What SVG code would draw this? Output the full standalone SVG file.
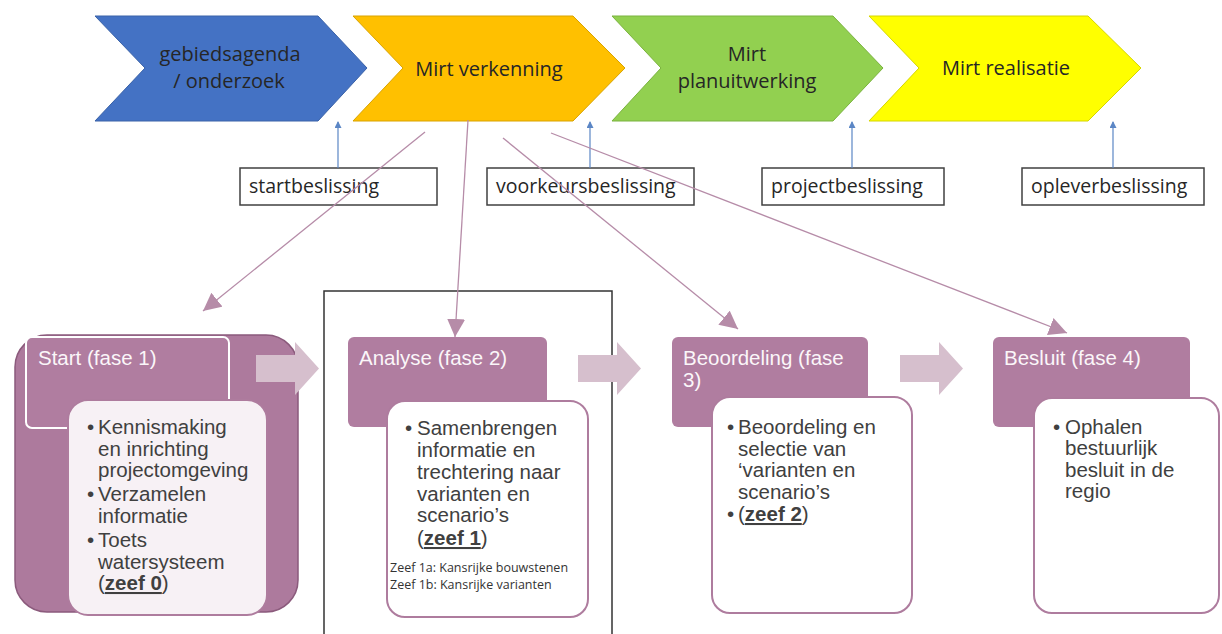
<svg xmlns="http://www.w3.org/2000/svg" width="1222" height="634" viewBox="0 0 1222 634">
<style>
.top{font-family:"Open Sans","Liberation Sans",sans-serif;font-size:20px;fill:#262626;text-anchor:middle}
.dec{font-family:"Open Sans","Liberation Sans",sans-serif;font-size:19.5px;fill:#262626}
.decbox{fill:#fff;stroke:#404040;stroke-width:1.5}
.hdr{fill:#B07DA0}
.hdrt{font-family:"Liberation Sans",Arial,sans-serif;font-size:20.5px;fill:#FBF6F9}
.inner{fill:#fff;stroke:#AE7C9E;stroke-width:2}
.bt{font-family:"Liberation Sans",Arial,sans-serif;font-size:20.5px;fill:#404040}
.small{font-family:"Open Sans","Liberation Sans",sans-serif;font-size:12.5px;fill:#333}
.blk{fill:#D6BFCD}
.pink{stroke:#B68CA8;stroke-width:1.3;fill:none;marker-end:url(#pa)}
.blue{stroke:#5B86C5;stroke-width:1.2;fill:none;marker-end:url(#ba)}
.z{font-weight:bold;text-decoration:underline}
</style>
<defs>
<marker id="pa" markerUnits="userSpaceOnUse" markerWidth="20" markerHeight="20" refX="18" refY="9" orient="auto">
<path d="M0,0 L18,9 L0,18 Z" fill="#B68CA8"/>
</marker>
<marker id="ba" markerUnits="userSpaceOnUse" markerWidth="8" markerHeight="8" refX="6" refY="3.5" orient="auto">
<path d="M0,0 L7,3.5 L0,7 Z" fill="#5B86C5"/>
</marker>
</defs>

<g id="chevron-gebiedsagenda">
<polygon points="95,16 318,16 367,68 318,121 95,121 145,68" fill="#4472C4" stroke="#3A62A8" stroke-width="1"/>
<text class="top" x="230" y="61">gebiedsagenda</text>
<text class="top" x="229" y="88">/ onderzoek</text>
</g>
<g id="chevron-verkenning">
<polygon points="353,16 573,16 625,68 573,121 353,121 403,68" fill="#FFC000" stroke="#D9A300" stroke-width="1"/>
<text class="top" x="489" y="76">Mirt verkenning</text>
</g>
<g id="chevron-planuitwerking">
<polygon points="612,16 833,16 883,68 833,121 612,121 661,68" fill="#92D050" stroke="#7AB33E" stroke-width="1"/>
<text class="top" x="747" y="61">Mirt</text>
<text class="top" x="747" y="88">planuitwerking</text>
</g>
<g id="chevron-realisatie">
<polygon points="869,16 1088,16 1141,68 1088,121 869,121 919,68" fill="#FFFF00" stroke="#D6D600" stroke-width="1"/>
<text class="top" x="1006" y="75">Mirt realisatie</text>
</g>

<g id="startbeslissing">
<rect class="decbox" x="240" y="168" width="197" height="37"/>
<text class="dec" x="249" y="193">startbeslissing</text>
</g>
<g id="voorkeursbeslissing">
<rect class="decbox" x="487" y="168" width="207" height="37"/>
<text class="dec" x="496" y="193">voorkeursbeslissing</text>
</g>
<g id="projectbeslissing">
<rect class="decbox" x="762" y="168" width="182" height="37"/>
<text class="dec" x="771" y="193">projectbeslissing</text>
</g>
<g id="opleverbeslissing">
<rect class="decbox" x="1022" y="168" width="182" height="37"/>
<text class="dec" x="1031" y="193">opleverbeslissing</text>
</g>

<g id="analyse-frame">
<rect x="324" y="291" width="288" height="360" fill="#fff" stroke="#333" stroke-width="1.5"/>
</g>

<g id="fase1">
<rect x="15" y="335" width="283" height="277" rx="32" fill="#AD7A9D" stroke="#8B5A7C" stroke-width="1.5"/>
<rect x="26" y="337" width="203" height="91" rx="6" fill="#B07DA0" stroke="#fff" stroke-width="2"/>
<text class="hdrt" x="38" y="365">Start (fase 1)</text>
<rect x="68" y="400" width="199" height="215" rx="20" fill="#F7F1F5" stroke="#AE7C9E" stroke-width="2"/>
<text class="bt"><tspan x="87" y="434">•</tspan><tspan x="98" y="434">Kennismaking</tspan><tspan x="98" y="455.5">en inrichting</tspan><tspan x="98" y="477">projectomgeving</tspan></text>
<text class="bt"><tspan x="87" y="501">•</tspan><tspan x="98" y="501">Verzamelen</tspan><tspan x="98" y="522.5">informatie</tspan></text>
<text class="bt"><tspan x="87" y="547">•</tspan><tspan x="98" y="547">Toets</tspan><tspan x="98" y="568.5">watersysteem</tspan><tspan x="98" y="590">(</tspan><tspan class="z">zeef 0</tspan><tspan>)</tspan></text>
</g>

<g id="fase2">
<rect class="hdr" x="348" y="337" width="199" height="90" rx="6"/>
<text class="hdrt" x="359" y="365">Analyse (fase 2)</text>
<rect class="inner" x="387" y="401" width="201" height="216" rx="18"/>
<text class="bt"><tspan x="405" y="435">•</tspan><tspan x="417" y="435">Samenbrengen</tspan><tspan x="417" y="457">informatie en</tspan><tspan x="417" y="479">trechtering naar</tspan><tspan x="417" y="500.5">varianten en</tspan><tspan x="417" y="522">scenario’s</tspan><tspan x="417" y="545">(</tspan><tspan class="z">zeef 1</tspan><tspan>)</tspan></text>
<text class="small" x="390" y="572">Zeef 1a: Kansrijke bouwstenen</text>
<text class="small" x="390" y="589">Zeef 1b: Kansrijke varianten</text>
</g>

<g id="fase3">
<rect class="hdr" x="672" y="337" width="196" height="90" rx="6"/>
<text class="hdrt"><tspan x="683" y="365">Beoordeling (fase</tspan><tspan x="683" y="387">3)</tspan></text>
<rect class="inner" x="712" y="397" width="200" height="216" rx="18"/>
<text class="bt"><tspan x="727" y="434">•</tspan><tspan x="738" y="434">Beoordeling en</tspan><tspan x="738" y="455.5">selectie van</tspan><tspan x="738" y="477">‘varianten en</tspan><tspan x="738" y="498.5">scenario’s</tspan></text>
<text class="bt"><tspan x="727" y="521">•</tspan><tspan x="738" y="521">(</tspan><tspan class="z">zeef 2</tspan><tspan>)</tspan></text>
</g>

<g id="fase4">
<rect class="hdr" x="993" y="337" width="197" height="90" rx="6"/>
<text class="hdrt" x="1004" y="365">Besluit (fase 4)</text>
<rect class="inner" x="1034" y="398" width="185" height="215" rx="18"/>
<text class="bt"><tspan x="1053" y="434">•</tspan><tspan x="1065" y="434">Ophalen</tspan><tspan x="1065" y="455">bestuurlijk</tspan><tspan x="1065" y="476.5">besluit in de</tspan><tspan x="1065" y="497.5">regio</tspan></text>
</g>

<g id="connectors">
<path class="blk" d="M256,355 H295 V342 L319,368.5 L295,395 V382 H256 Z"/>
<path class="blk" d="M578,355 H617 V342 L641,368.5 L617,395 V382 H578 Z"/>
<path class="blk" d="M900,355 H939 V342 L963,368.5 L939,395 V382 H900 Z"/>
<line class="blue" x1="338" y1="168" x2="338" y2="122"/>
<line class="blue" x1="590" y1="168" x2="590" y2="122"/>
<line class="blue" x1="852" y1="168" x2="852" y2="122"/>
<line class="blue" x1="1113" y1="168" x2="1113" y2="122"/>
<line class="pink" x1="425" y1="132" x2="203" y2="311"/>
<line class="pink" x1="468" y1="120" x2="455" y2="337"/>
<line class="pink" x1="503" y1="138" x2="738" y2="329"/>
<line class="pink" x1="551" y1="133" x2="1067" y2="333"/>
</g>
</svg>
